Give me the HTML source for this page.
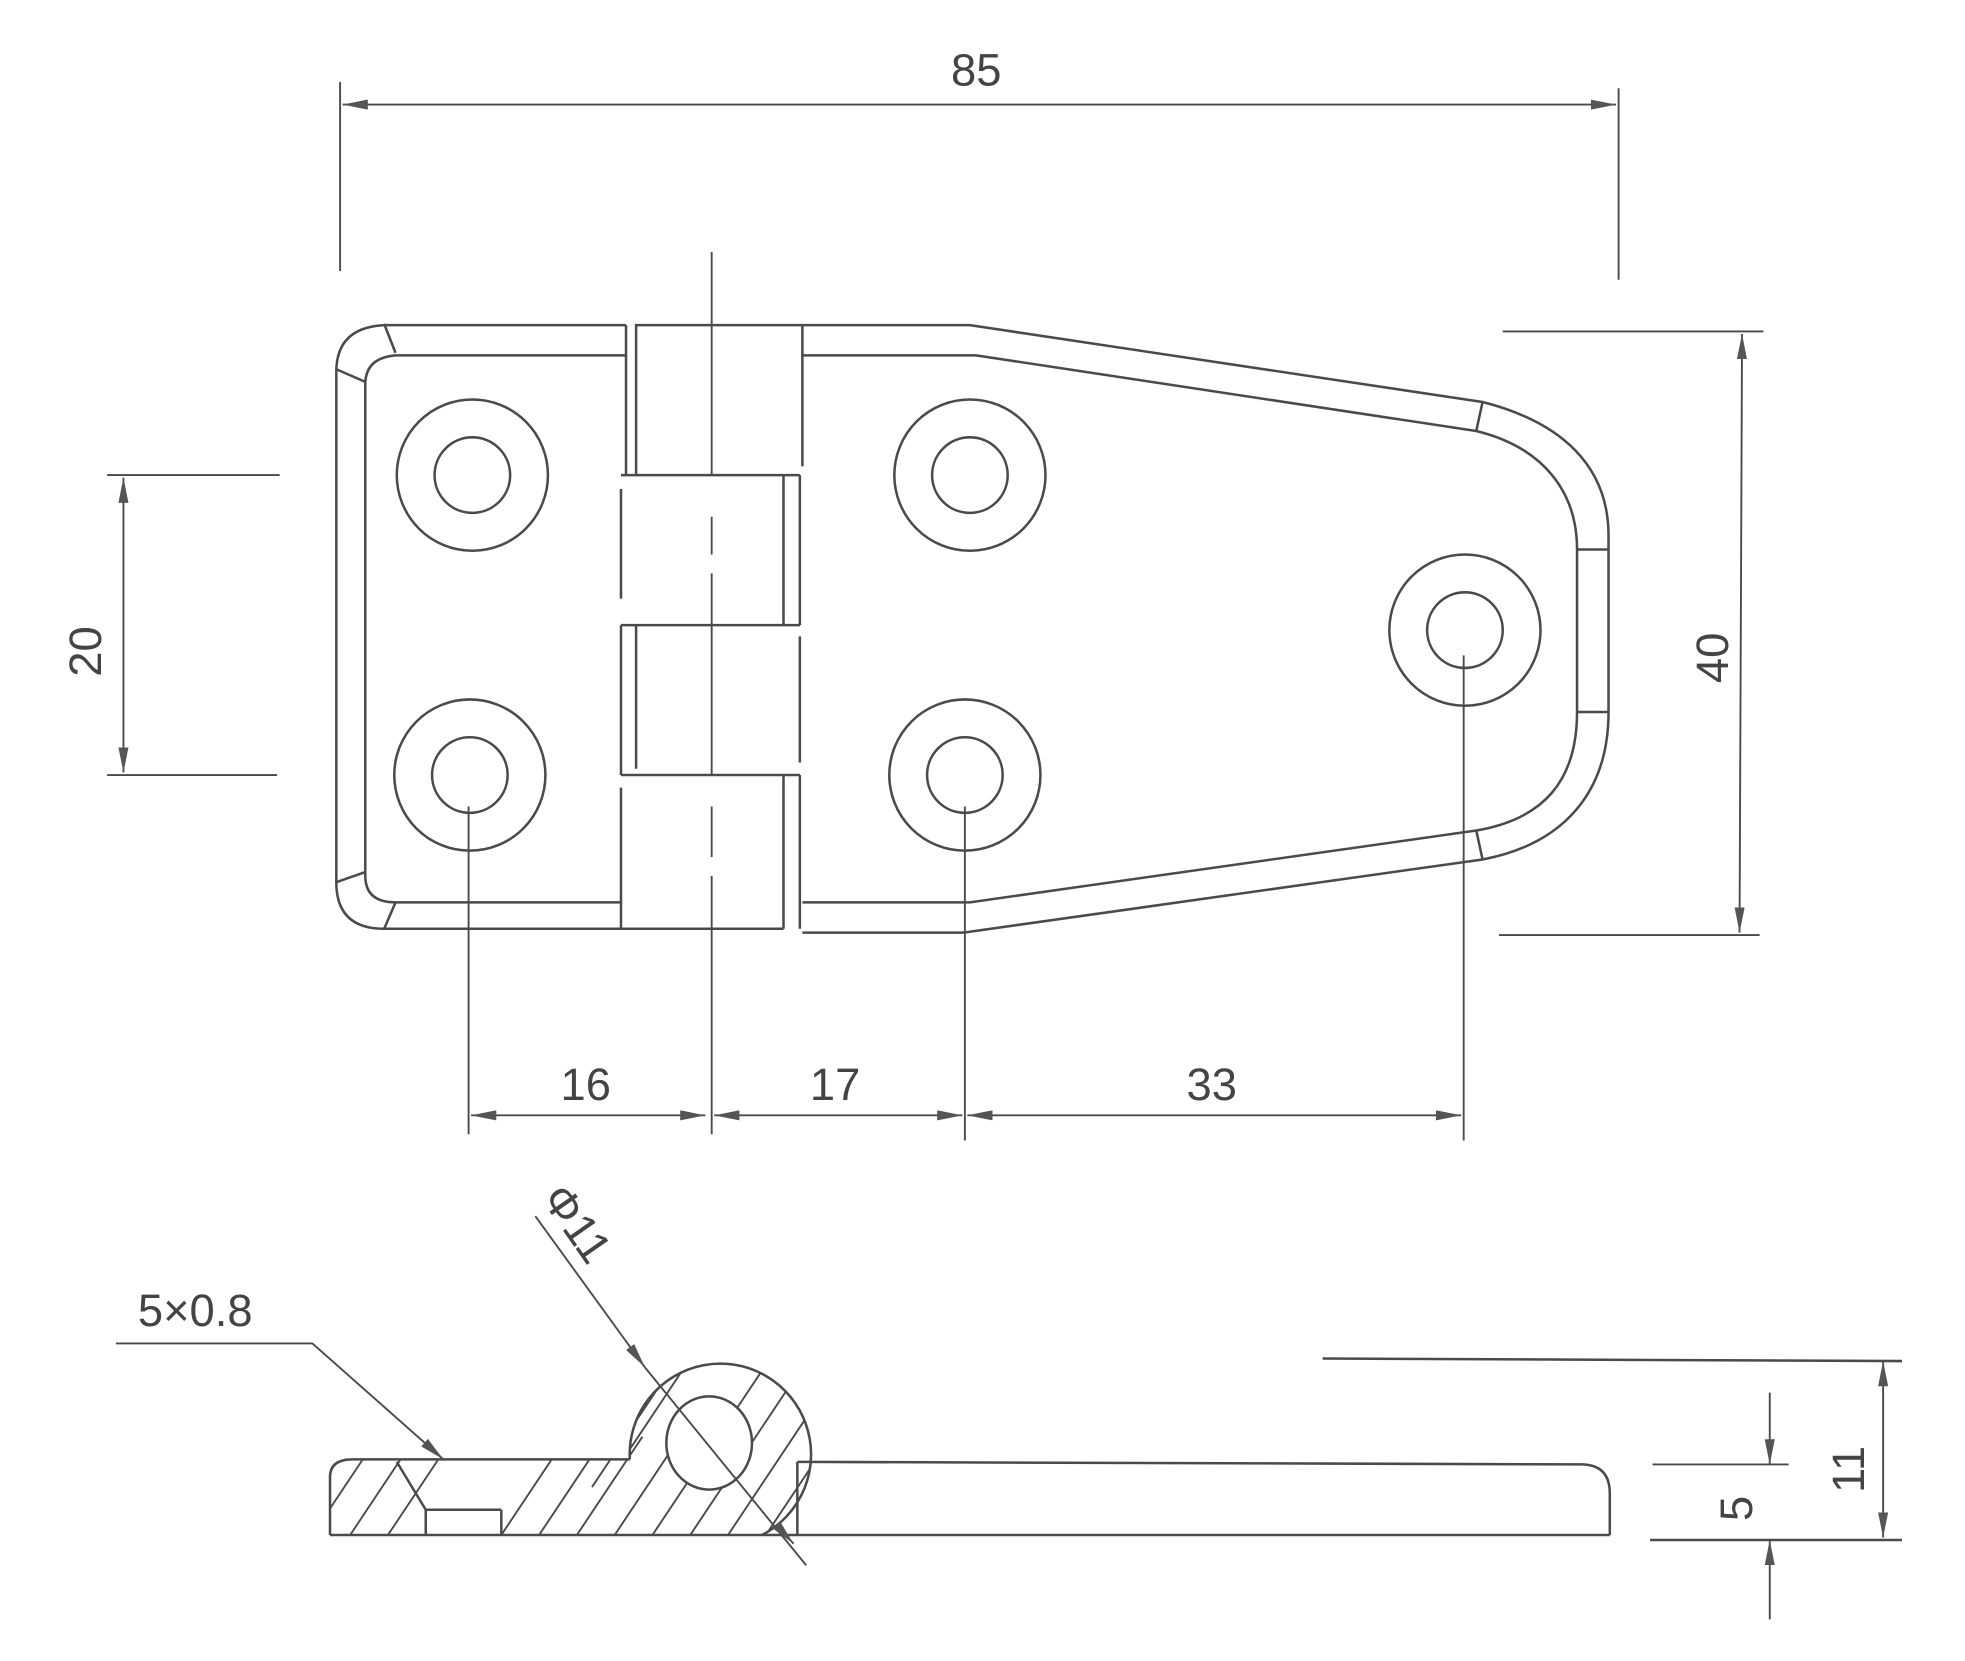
<!DOCTYPE html>
<html><head><meta charset="utf-8"><style>html,body{margin:0;padding:0;background:#fff}svg{display:block}</style></head>
<body>
<svg width="1965" height="1661" viewBox="0 0 1560 1318" preserveAspectRatio="none" xmlns="http://www.w3.org/2000/svg">
<defs>
<marker id="a" viewBox="0 0 20 8" refX="20" refY="4" markerWidth="20" markerHeight="8" markerUnits="userSpaceOnUse" orient="auto"><path d="M0,0 L20,4 L0,8 Z" fill="#555"/></marker>
<marker id="b" viewBox="0 0 20 8" refX="0" refY="4" markerWidth="20" markerHeight="8" markerUnits="userSpaceOnUse" orient="auto"><path d="M20,0 L0,4 L20,8 Z" fill="#555"/></marker>
<clipPath id="hc"><path d="M262,1218 L262,1172 Q262,1158 280,1158 L500,1158 A72,72 0 1 1 605,1218 Z"/></clipPath>
</defs>
<g fill="none" stroke="#4a4a4a" stroke-width="2">
<line x1="270" y1="65" x2="270" y2="215" stroke-width="1.5"/>
<line x1="1285" y1="70" x2="1285" y2="222" stroke-width="1.5"/>
<line x1="272" y1="83" x2="1283" y2="83" stroke-width="1.5" marker-start="url(#b)" marker-end="url(#a)"/>
<path d="M497,258 L305,258 Q267,260 267,295 L267,700 Q267,737 305,737 L493,737"/>
<path d="M497,282 L314,282 Q290,284 290,305 L290,695 Q290,716 314,716 L493,716"/>
<line x1="305" y1="257" x2="314" y2="280"/><line x1="267" y1="293" x2="290" y2="303"/>
<line x1="305" y1="737" x2="314" y2="716"/><line x1="267" y1="700" x2="290" y2="692"/>
<line x1="497" y1="258" x2="497" y2="377"/>
<path d="M505,377 L505,258 L637,258"/>
<line x1="493" y1="377" x2="635" y2="377"/>
<line x1="622" y1="377" x2="622" y2="496"/><line x1="635" y1="377" x2="635" y2="496"/>
<line x1="637" y1="258" x2="637" y2="370"/>
<line x1="493" y1="388" x2="493" y2="475"/>
<line x1="493" y1="496" x2="635" y2="496"/>
<line x1="493" y1="496" x2="493" y2="615"/><line x1="505" y1="496" x2="505" y2="610"/>
<line x1="635" y1="505" x2="635" y2="605"/>
<line x1="493" y1="615" x2="635" y2="615"/>
<line x1="493" y1="625" x2="493" y2="737"/>
<line x1="622" y1="615" x2="622" y2="737"/><line x1="635" y1="615" x2="635" y2="737"/>
<line x1="493" y1="737" x2="622" y2="737"/>
<path d="M565,200 L565,377 M565,410 L565,440 M565,455 L565,615 M565,640 L565,680 M565,695 L565,900" stroke-width="1.5"/>
<path d="M637,258 L770,258 L1177,319 C1240,335 1277,370 1277,425 L1277,565 C1277,630 1240,670 1177,682 L765,740 L637,740"/>
<path d="M637,282 L775,282 L1172,342 C1225,355 1252,390 1252,436 L1252,565 C1252,620 1225,650 1172,659 L770,716 L637,716"/>
<line x1="1172" y1="342" x2="1177" y2="319"/>
<line x1="1252" y1="436" x2="1277" y2="436"/>
<line x1="1252" y1="565" x2="1277" y2="565"/>
<line x1="1172" y1="659" x2="1177" y2="682"/>
<circle cx="375" cy="377" r="60"/><circle cx="375" cy="377" r="30"/>
<circle cx="373" cy="615" r="60"/><circle cx="373" cy="615" r="30"/>
<circle cx="770" cy="377" r="60"/><circle cx="770" cy="377" r="30"/>
<circle cx="766" cy="615" r="60"/><circle cx="766" cy="615" r="30"/>
<ellipse cx="1163" cy="500" rx="60" ry="60"/><ellipse cx="1163" cy="500" rx="30" ry="30"/>
<line x1="85" y1="377" x2="222" y2="377" stroke-width="1.5"/>
<line x1="85" y1="615" x2="220" y2="615" stroke-width="1.5"/>
<line x1="98" y1="379" x2="98" y2="613" stroke-width="1.5" marker-start="url(#b)" marker-end="url(#a)"/>
<line x1="1193" y1="263" x2="1400" y2="263" stroke-width="1.5"/>
<line x1="1190" y1="742" x2="1397" y2="742" stroke-width="1.5"/>
<line x1="1383" y1="265" x2="1381" y2="740" stroke-width="1.5" marker-start="url(#b)" marker-end="url(#a)"/>
<line x1="372" y1="640" x2="372" y2="900" stroke-width="1.5"/>
<line x1="766" y1="640" x2="766" y2="905" stroke-width="1.5"/>
<line x1="1162" y1="520" x2="1162" y2="905" stroke-width="1.5"/>
<line x1="374" y1="885" x2="560" y2="885" stroke-width="1.5" marker-start="url(#b)" marker-end="url(#a)"/>
<line x1="567" y1="885" x2="764" y2="885" stroke-width="1.5" marker-start="url(#b)" marker-end="url(#a)"/>
<line x1="768" y1="885" x2="1160" y2="885" stroke-width="1.5" marker-start="url(#b)" marker-end="url(#a)"/>
<g clip-path="url(#hc)" stroke-width="1.5">
<path d="M240,1230 L300,1140 M270,1230 L330,1140 M300,1230 L360,1140 M390,1230 L450,1140 M420,1230 L480,1140 M450,1230 L510,1140 M480,1230 L540,1140 M510,1230 L620,1065 M540,1230 L640,1080 M570,1230 L650,1110 M600,1230 L660,1140 M470,1180 L560,1045 M500,1150 L580,1030"/>
</g>
<path d="M315,1160 L338,1198 L398,1198 M338,1198 L338,1218 M398,1198 L398,1218"/>
<path d="M262,1218 L262,1172 Q262,1158 280,1158 L500,1158"/>
<path d="M500,1158 A72,72 0 1 1 605,1218"/>
<ellipse cx="563" cy="1145" rx="34" ry="37" fill="#fff"/>
<path d="M633,1160 L1255,1162 Q1278,1162 1278,1185 L1278,1218"/>
<line x1="633" y1="1160" x2="633" y2="1218"/>
<line x1="262" y1="1218" x2="1278" y2="1218"/>
<path d="M92,1066 L248,1066 L352,1158" stroke-width="1.5" marker-end="url(#a)"/>
<line x1="425" y1="965" x2="512" y2="1085" stroke-width="1.5" marker-end="url(#a)"/>
<line x1="512" y1="1085" x2="640" y2="1242" stroke-width="1.5"/>
<line x1="620" y1="1214" x2="630" y2="1225" stroke-width="1.5" marker-end="url(#a)"/>
<line x1="1050" y1="1078" x2="1510" y2="1080" stroke-width="2"/>
<line x1="1312" y1="1162" x2="1420" y2="1162" stroke-width="1.5"/>
<line x1="1310" y1="1222" x2="1510" y2="1222" stroke-width="2"/>
<line x1="1495" y1="1080" x2="1495" y2="1220" stroke-width="1.5" marker-start="url(#b)" marker-end="url(#a)"/>
<line x1="1405" y1="1105" x2="1405" y2="1162" stroke-width="1.5" marker-end="url(#a)"/>
<line x1="1405" y1="1285" x2="1405" y2="1222" stroke-width="1.5" marker-end="url(#a)"/>
</g>
<g font-family="Liberation Sans, sans-serif" font-size="36" fill="#444" text-anchor="middle">
<text x="775" y="68">85</text>
<text x="465" y="873">16</text>
<text x="663" y="873">17</text>
<text x="962" y="873">33</text>
<text transform="translate(80,517) rotate(-90)">20</text>
<text transform="translate(1372,522) rotate(-90)">40</text>
<text x="155" y="1052">5×0.8</text>
<text transform="translate(448,978) rotate(55)" text-anchor="middle">Φ11</text>
<text transform="translate(1480,1166) rotate(-90)">11</text>
<text transform="translate(1391,1197) rotate(-90)">5</text>
</g>
</svg>
</body></html>
